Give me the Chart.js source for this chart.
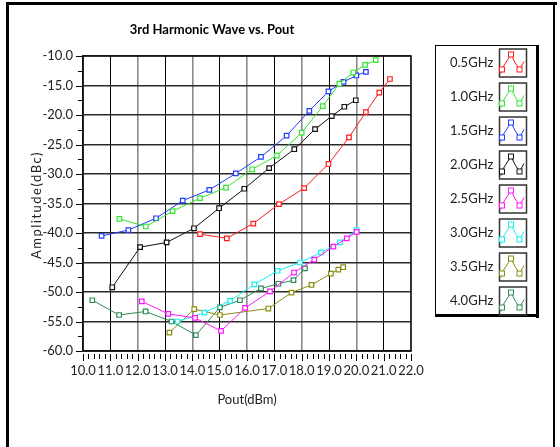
<!DOCTYPE html>
<html>
<head>
<meta charset="utf-8">
<script src="https://cdn.jsdelivr.net/npm/chart.js@4.4.0/dist/chart.umd.min.js"></script>
<style>
  html, body { margin: 0; padding: 0; background: #fff; }
</style>
</head>
<body>
<canvas id="chart" width="560" height="447"></canvas>
<script>
// Series names and colors (legend order)
const seriesNames = ['0.5GHz', '1.0GHz', '1.5GHz', '2.0GHz', '2.5GHz', '3.0GHz', '3.5GHz', '4.0GHz'];
const seriesColors = ['#ff1a1a', '#33e633', '#1f3cff', '#111111', '#ff14ff', '#14f0f0', '#8c8c14', '#2e8b57'];

// Pout (dBm) per series
const pout05 = [14.28, 15.26, 16.23, 17.17, 18.09, 18.98, 19.73, 20.35, 20.84, 21.23];
const pout10 = [11.33, 12.3, 13.28, 14.28, 15.23, 16.19, 17.09, 18.0, 18.77, 19.38, 19.89, 20.32, 20.71];
const pout15 = [10.68, 11.66, 12.67, 13.65, 14.62, 15.59, 16.51, 17.45, 18.28, 18.98, 19.53, 20.0, 20.35];
const pout20 = [11.07, 12.09, 13.06, 14.06, 14.98, 15.9, 16.81, 17.73, 18.49, 19.1, 19.56, 19.98];
const pout25 = [12.15, 13.12, 14.1, 15.05, 15.93, 16.84, 17.72, 18.46, 19.16, 19.65, 20.01];
const pout30 = [13.46, 14.44, 15.38, 16.27, 17.12, 17.94, 18.71, 19.4, 20.01];
const pout35 = [13.16, 14.07, 15.01, 16.78, 17.63, 18.36, 19.07, 19.34, 19.52];
const pout40 = [10.34, 11.32, 12.29, 13.24, 14.13, 15.01, 15.74, 16.51, 17.15, 17.7, 18.12];

// Amplitude (dBc) per series
const amp05 = [-40.2, -40.9, -38.4, -35.1, -32.4, -28.3, -23.8, -19.5, -16.2, -13.9];
const amp10 = [-37.6, -38.9, -36.3, -34.1, -32.3, -29.2, -26.9, -23.0, -18.5, -14.7, -12.8, -11.5, -10.7];
const amp15 = [-40.5, -39.5, -37.5, -34.5, -32.7, -29.9, -27.1, -23.5, -19.3, -16.0, -14.4, -13.3, -12.7];
const amp20 = [-49.2, -42.4, -41.6, -39.2, -35.8, -32.5, -29.0, -25.8, -22.4, -20.2, -18.6, -17.5];
const amp25 = [-51.6, -53.7, -54.4, -56.6, -52.7, -49.9, -46.7, -44.5, -42.3, -40.9, -39.8];
const amp30 = [-55.0, -53.5, -51.5, -48.7, -46.4, -45.0, -43.3, -41.6, -39.5];
const amp35 = [-56.9, -52.9, -53.9, -52.8, -50.1, -48.8, -46.9, -46.2, -45.8];
const amp40 = [-51.4, -53.9, -53.3, -55.0, -57.3, -52.6, -51.4, -49.4, -48.6, -48.0, -46.0];

const allPout = [pout05, pout10, pout15, pout20, pout25, pout30, pout35, pout40];
const allAmp = [amp05, amp10, amp15, amp20, amp25, amp30, amp35, amp40];

// Axis ranges
const xMin = 10, xMax = 22, xStep = 1;
const yMin = -60, yMax = -10, yStep = 5;

const FONT = 'Lato, "Open Sans", sans-serif';

const datasets = seriesNames.map((name, i) => ({
  label: name,
  data: allPout[i].map((x, j) => ({ x: x, y: allAmp[i][j] })),
  borderColor: seriesColors[i],
  backgroundColor: '#ffffff',
  borderWidth: 1,
  pointStyle: 'rect',
  pointRadius: 3.2,
  pointBorderWidth: 1.2,
  pointBorderColor: seriesColors[i],
  pointBackgroundColor: '#ffffff',
  showLine: true,
  tension: 0
}));

// Draws ticks, frame, titles and the boxed legend
const extras = {
  id: 'extras',
  beforeDraw(chart) {
    const ctx = chart.ctx;
    ctx.save();
    ctx.fillStyle = '#fff';
    ctx.fillRect(0, 0, chart.width, chart.height);
    ctx.restore();
  },
  afterDraw(chart) {
    const ctx = chart.ctx;
    const xs = chart.scales.x, ys = chart.scales.y;
    const a = chart.chartArea;
    ctx.save();

    // minor + major tick marks
    ctx.strokeStyle = '#000';
    ctx.lineWidth = 1;
    ctx.beginPath();
    for (let k = 0; k <= (xMax - xMin) * 5; k++) {
      const v = xMin + k * 0.2;
      const px = Math.round(xs.getPixelForValue(v)) + 0.5;
      const len = (k % 5 === 0) ? 7 : 5;
      ctx.moveTo(px, a.bottom + 3);
      ctx.lineTo(px, a.bottom + 3 + len);
    }
    for (let k = 0; k <= (yMax - yMin) / 2.5; k++) {
      const v = yMin + k * 2.5;
      const py = Math.round(ys.getPixelForValue(v)) + 0.5;
      const len = (k % 2 === 0) ? 6 : 4;
      ctx.moveTo(a.left - 1 - len, py);
      ctx.lineTo(a.left - 1, py);
    }
    ctx.stroke();

    // plot border
    ctx.strokeStyle = '#111';
    ctx.lineWidth = 1.5;
    ctx.strokeRect(a.left, a.top, a.right - a.left, a.bottom - a.top);

    // chart title
    ctx.fillStyle = '#000';
    ctx.font = 'bold 13px ' + FONT;
    ctx.textAlign = 'center';
    ctx.textBaseline = 'middle';
    ctx.fillText('3rd Harmonic Wave vs. Pout', 212, 30);

    // axis titles
    ctx.fillStyle = '#222';
    ctx.font = '13px ' + FONT;
    ctx.fillText('Pout(dBm)', 247, 400);
    ctx.save();
    ctx.translate(37, 205);
    ctx.rotate(-Math.PI / 2);
    ctx.letterSpacing = '1.5px';
    ctx.fillText('Amplitude(dBc)', 0, 0);
    ctx.restore();

    // legend box
    const lx = 435, ly = 45, lw = 102, lh = 270;
    ctx.fillStyle = '#fff';
    ctx.fillRect(lx, ly, lw, lh);
    ctx.strokeStyle = '#000';
    ctx.lineWidth = 1;
    ctx.strokeRect(lx + 0.5, ly + 0.5, lw, lh);
    ctx.fillStyle = '#000';
    ctx.fillRect(lx + lw - 1, ly, 3, lh + 3);
    ctx.fillRect(lx, ly + lh - 1, lw + 2, 3);

    seriesNames.forEach((name, i) => {
      const cy = 62.5 + i * 34;
      ctx.fillStyle = '#222';
      ctx.font = '13px ' + FONT;
      ctx.textAlign = 'left';
      ctx.fillText(name, 450, cy);
      // icon frame
      const bx = 499, by = cy - 14, bw = 27, bh = 28;
      ctx.strokeStyle = '#333';
      ctx.lineWidth = 1.5;
      ctx.strokeRect(bx + 0.5, by + 0.5, bw, bh);
      // icon curve
      ctx.strokeStyle = seriesColors[i];
      ctx.lineWidth = 1;
      ctx.beginPath();
      ctx.moveTo(bx + 2, by + 25);
      ctx.lineTo(bx + 3, by + 20);
      ctx.lineTo(bx + 12, by + 6);
      ctx.lineTo(bx + 16, by + 14);
      ctx.lineTo(bx + 20.5, by + 21);
      ctx.lineTo(bx + 25, by + 13);
      ctx.stroke();
      ctx.fillStyle = '#fff';
      [[3, 21], [12, 6], [20.5, 21]].forEach(p => {
        ctx.fillRect(bx + p[0] - 2.5, by + p[1] - 2.5, 5, 5);
        ctx.strokeRect(bx + p[0] - 2.5, by + p[1] - 2.5, 5, 5);
      });
    });

    // outer frame
    ctx.fillStyle = '#000';
    ctx.fillRect(6, 2, 551, 3);
    ctx.fillRect(6, 2, 3, chart.height);
    ctx.fillRect(553, 2, 2, chart.height);

    ctx.restore();
  }
};

new Chart(document.getElementById('chart'), {
  type: 'line',
  data: { datasets: datasets },
  options: {
    responsive: false,
    animation: false,
    layout: { padding: { left: 23, top: 56, right: 149, bottom: 56 } },
    plugins: {
      legend: { display: false },
      title: { display: false },
      tooltip: { enabled: false }
    },
    scales: {
      x: {
        type: 'linear',
        min: xMin,
        max: xMax,
        afterFit: s => { s.height = 40; },
        ticks: {
          stepSize: xStep,
          autoSkip: false,
          padding: 12,
          color: '#222',
          font: { family: FONT, size: 13 },
          maxRotation: 0,
          callback: v => Number(v).toFixed(1)
        },
        grid: {
          drawTicks: false,
          color: c => (c.tick && c.tick.value % 2 !== 0) ? '#000' : '#8a8a8a',
          lineWidth: c => (c.tick && c.tick.value % 2 !== 0) ? 1 : 1.6
        },
        border: { color: '#111', width: 1.5 }
      },
      y: {
        type: 'linear',
        min: yMin,
        max: yMax,
        afterFit: s => { s.width = 60; },
        ticks: {
          stepSize: yStep,
          autoSkip: false,
          padding: 10,
          color: '#222',
          font: { family: FONT, size: 13 },
          callback: v => Number(v).toFixed(1)
        },
        grid: {
          drawTicks: false,
          color: '#2a2a2a',
          lineWidth: 1.4
        },
        border: { color: '#111', width: 1.5 }
      }
    }
  },
  plugins: [extras]
});
</script>
</body>
</html>
